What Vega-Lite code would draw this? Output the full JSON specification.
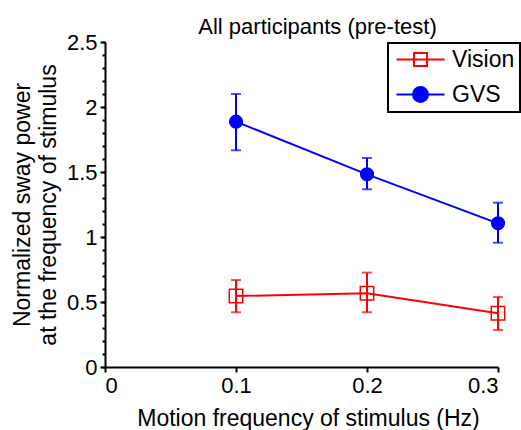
{
  "$schema": "https://vega.github.io/schema/vega-lite/v6.json",
  "autosize": {"type": "none"},
  "width": 393,
  "height": 325,
  "padding": {"left": 105, "top": 42, "right": 23, "bottom": 63},
  "background": "white",
  "title": {"text": "All participants (pre-test)", "dx": 16, "dy": 14, "offset": 6},
  "data": {
    "values": [
      {"group": "Vision", "freq": 0.1, "mean": 0.546, "lo": 0.421, "hi": 0.669},
      {"group": "Vision", "freq": 0.2, "mean": 0.567, "lo": 0.421, "hi": 0.726},
      {"group": "Vision", "freq": 0.3, "mean": 0.413, "lo": 0.285, "hi": 0.538},
      {"group": "GVS", "freq": 0.1, "mean": 1.887, "lo": 1.667, "hi": 2.1},
      {"group": "GVS", "freq": 0.2, "mean": 1.482, "lo": 1.367, "hi": 1.608},
      {"group": "GVS", "freq": 0.3, "mean": 1.105, "lo": 0.956, "hi": 1.264}
    ]
  },
  "config": {
    "font": "Liberation Sans",
    "view": {"stroke": null},
    "title": {"fontSize": 22, "fontWeight": "normal", "color": "black", "font": "Liberation Sans"},
    "axis": {
      "grid": false,
      "domainColor": "black",
      "domainWidth": 2,
      "tickColor": "black",
      "tickWidth": 2,
      "tickSize": 5,
      "labelFont": "Liberation Sans",
      "labelFontSize": 22,
      "labelColor": "black",
      "titleFont": "Liberation Sans",
      "titleFontSize": 23,
      "titleFontWeight": "normal",
      "titleColor": "black"
    },
    "legend": {
      "labelFont": "Liberation Sans",
      "labelFontSize": 23,
      "labelColor": "black"
    }
  },
  "resolve": {"axis": {"y": "independent"}},
  "layer": [
    {
      "mark": {"type": "line", "strokeWidth": 2},
      "encoding": {
        "x": {
          "field": "freq", "type": "quantitative",
          "scale": {"domain": [0, 0.3], "nice": false, "zero": false},
          "axis": {"values": [0, 0.1, 0.2, 0.3], "format": "~g", "title": "Motion frequency of stimulus (Hz)", "labelPadding": 3, "titlePadding": 11, "titleX": 203}
        },
        "y": {
          "field": "mean", "type": "quantitative",
          "scale": {"domain": [0, 2.5], "nice": false},
          "axis": {"orient": "left", "values": [0, 0.5, 1, 1.5, 2, 2.5], "format": "~g", "title": ["Normalized sway power", "at the frequency of stimulus"], "titleLineHeight": 26, "titlePadding": 6, "labelPadding": 3}
        },
        "color": {
          "field": "group", "type": "nominal",
          "scale": {"domain": ["Vision", "GVS"], "range": ["#ff0000", "#0000ff"]},
          "legend": {
            "title": null,
            "orient": "none",
            "legendX": 283,
            "legendY": 1,
            "strokeColor": "black",
            "fillColor": "white",
            "padding": 5,
            "symbolSize": 225,
            "symbolStrokeWidth": 2,
            "symbolOffset": 16,
            "labelOffset": 20,
            "rowPadding": 11,
            "labelLimit": 300,
            "labelExpr": "datum.label + '    '",
            "encode": {
              "legend": {"update": {"strokeWidth": {"value": 2}}},
              "symbols": {
                "update": {
                  "shape": {"signal": "datum.value === 'GVS' ? 'M-3.2,0H3.2M-1,0A1,1 0 1,1 1,0A1,1 0 1,1 -1,0Z' : 'M-3.2,0H3.2M-0.87,-0.87H0.87V0.87H-0.87ZM-0.87,-0.87V0.87H0.87V-0.87Z'"},
                  "fill": {"signal": "datum.value === 'GVS' ? '#0000ff' : '#ff0000'"},
                  "stroke": {"signal": "datum.value === 'GVS' ? '#0000ff' : '#ff0000'"},
                  "strokeWidth": {"value": 2},
                  "opacity": {"value": 1}
                }
              }
            }
          }
        }
      }
    },
    {
      "mark": {"type": "errorbar", "ticks": {"size": 10, "thickness": 2}, "rule": {"strokeWidth": 2}},
      "encoding": {
        "x": {"field": "freq", "type": "quantitative"},
        "y": {
          "field": "lo", "type": "quantitative",
          "axis": {"orient": "left", "values": [0,0.1,0.2,0.3,0.4,0.5,0.6,0.7,0.8,0.9,1,1.1,1.2,1.3,1.4,1.5,1.6,1.7,1.8,1.9,2,2.1,2.2,2.3,2.4,2.5], "labels": false, "domain": false, "tickSize": 3, "title": null}
        },
        "y2": {"field": "hi"},
        "color": {"field": "group", "type": "nominal"}
      }
    },
    {
      "transform": [{"filter": "datum.group === 'Vision'"}],
      "mark": {"type": "point", "shape": "square", "filled": false, "size": 180, "strokeWidth": 1.5, "opacity": 1},
      "encoding": {
        "x": {"field": "freq", "type": "quantitative"},
        "y": {"field": "mean", "type": "quantitative", "axis": null},
        "color": {"field": "group", "type": "nominal"}
      }
    },
    {
      "transform": [{"filter": "datum.group === 'GVS'"}],
      "mark": {"type": "point", "shape": "circle", "filled": true, "size": 200, "opacity": 1},
      "encoding": {
        "x": {"field": "freq", "type": "quantitative"},
        "y": {"field": "mean", "type": "quantitative", "axis": null},
        "color": {"field": "group", "type": "nominal"}
      }
    }
  ]
}
